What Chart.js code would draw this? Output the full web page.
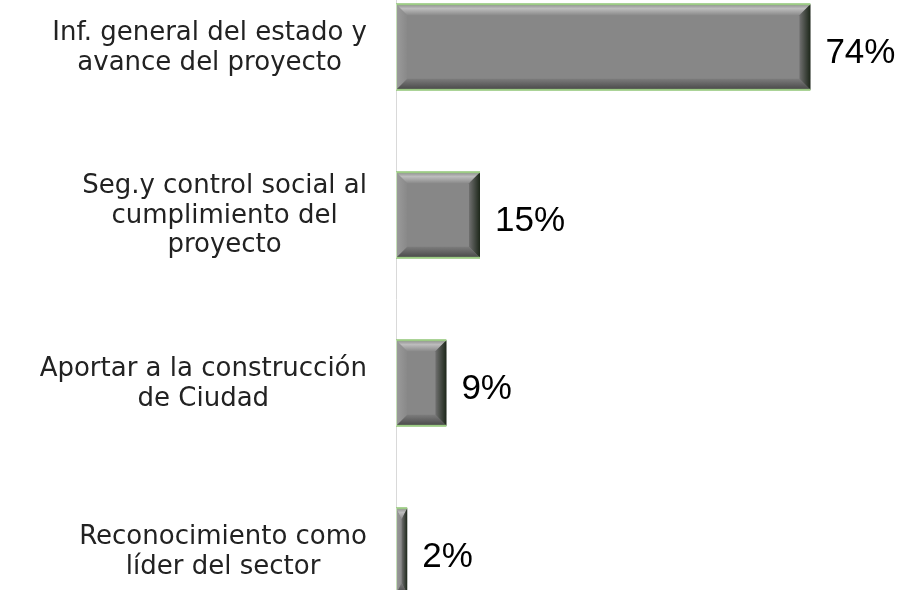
<!DOCTYPE html>
<html lang="es">
<head>
  <meta charset="UTF-8">
  <title>Interés en la información</title>
  <script src="https://cdn.jsdelivr.net/npm/chart.js"></script>
  <style>
    html, body { margin: 0; padding: 0; background: #fff; overflow: hidden; }
    #wrap { position: absolute; left: 0; top: -37px; width: 923px; height: 672px; }
  </style>
</head>
<body>
  <div id="wrap"><canvas id="barChart"></canvas></div>

  <script>
    const categories = [
      ['Inf. general del estado y', 'avance del proyecto'],
      ['Seg.y control social al', 'cumplimiento del', 'proyecto'],
      ['Aportar a la construcción', 'de Ciudad'],
      ['Reconocimiento como', 'líder del sector']
    ];
    const percentages = [74, 15, 9, 2];

    const labelFont = '26px "DejaVu Sans"';
    const valueFont = '35px "Liberation Sans"';

    // category labels: each block right aligned, lines centred inside the block
    const categoryLabels = {
      id: 'categoryLabels',
      afterDraw(chart) {
        const ctx = chart.ctx;
        const yScale = chart.scales.y;
        const right = chart.chartArea.left - 29;
        ctx.save();
        ctx.font = labelFont;
        ctx.fillStyle = '#222';
        ctx.textAlign = 'center';
        ctx.textBaseline = 'middle';
        categories.forEach((lines, i) => {
          const cy = yScale.getPixelForTick(i);
          const w = Math.max(...lines.map(l => ctx.measureText(l).width));
          const cx = right - w / 2;
          const lh = 29.5;
          const start = cy - (lines.length - 1) * lh / 2 + 1;
          lines.forEach((l, j) => ctx.fillText(l, cx, start + j * lh));
        });
        ctx.restore();
      }
    };

    // bevel look + green rim on the bars, then the percentage text
    const bevelBars = {
      id: 'bevelBars',
      afterDatasetsDraw(chart) {
        const ctx = chart.ctx;
        const meta = chart.getDatasetMeta(0);
        ctx.save();
        meta.data.forEach((bar, i) => {
          const p = bar.getProps(['x', 'y', 'base', 'height'], true);
          const l = p.base, r = p.x, t = p.y - p.height / 2, b = p.y + p.height / 2;
          const w = r - l;
          const bv = Math.min(11, w / 2);
          const d = 11;

          // top bevel
          let g = ctx.createLinearGradient(0, t, 0, t + d);
          g.addColorStop(0, '#8c8c8c');
          g.addColorStop(0.4, '#bdbdbd');
          g.addColorStop(1, '#8b8b8b');
          ctx.fillStyle = g;
          ctx.beginPath();
          ctx.moveTo(l, t); ctx.lineTo(r, t); ctx.lineTo(r - bv, t + d); ctx.lineTo(l + bv, t + d);
          ctx.closePath(); ctx.fill();

          // bottom bevel
          g = ctx.createLinearGradient(0, b - d, 0, b);
          g.addColorStop(0, '#7c7c7c');
          g.addColorStop(1, '#474747');
          ctx.fillStyle = g;
          ctx.beginPath();
          ctx.moveTo(l, b); ctx.lineTo(r, b); ctx.lineTo(r - bv, b - d); ctx.lineTo(l + bv, b - d);
          ctx.closePath(); ctx.fill();

          // left bevel
          g = ctx.createLinearGradient(l, 0, l + bv, 0);
          g.addColorStop(0, '#9c9c9c');
          g.addColorStop(1, '#898989');
          ctx.fillStyle = g;
          ctx.beginPath();
          ctx.moveTo(l, t); ctx.lineTo(l + bv, t + d); ctx.lineTo(l + bv, b - d); ctx.lineTo(l, b);
          ctx.closePath(); ctx.fill();

          // right bevel
          g = ctx.createLinearGradient(r - bv, 0, r, 0);
          g.addColorStop(0, '#707070');
          g.addColorStop(1, '#1d271a');
          ctx.fillStyle = g;
          ctx.beginPath();
          ctx.moveTo(r, t); ctx.lineTo(r - bv, t + d); ctx.lineTo(r - bv, b - d); ctx.lineTo(r, b);
          ctx.closePath(); ctx.fill();

          // green rim
          ctx.fillStyle = '#9ccb84';
          ctx.fillRect(l, t - 1, w, 2);
          ctx.fillRect(l, b - 1, w, 2);
          ctx.fillStyle = '#c6e0b8';
          ctx.fillRect(l, t, 1, p.height);

          // value
          ctx.font = valueFont;
          ctx.fillStyle = '#000';
          ctx.textAlign = 'left';
          ctx.textBaseline = 'middle';
          ctx.fillText(percentages[i] + '%', r + 15, p.y + 6);
        });
        ctx.restore();
      }
    };

    new Chart(document.getElementById('barChart'), {
      type: 'bar',
      data: {
        labels: categories,
        datasets: [{
          data: percentages,
          backgroundColor: '#878787',
          borderWidth: 0,
          barPercentage: 0.51,
          categoryPercentage: 1
        }]
      },
      options: {
        indexAxis: 'y',
        responsive: true,
        maintainAspectRatio: false,
        animation: false,
        layout: { padding: { top: 0, bottom: 0, left: 0, right: 23 } },
        plugins: {
          legend: { display: false },
          tooltip: { enabled: false }
        },
        scales: {
          x: { display: false, min: 0, max: 90 },
          y: {
            grid: { display: false, drawTicks: false },
            border: { display: true, color: '#d9d9d9', width: 1 },
            ticks: { display: false },
            afterFit(scale) { scale.width = 396; }
          }
        }
      },
      plugins: [categoryLabels, bevelBars]
    });
  </script>
</body>
</html>
